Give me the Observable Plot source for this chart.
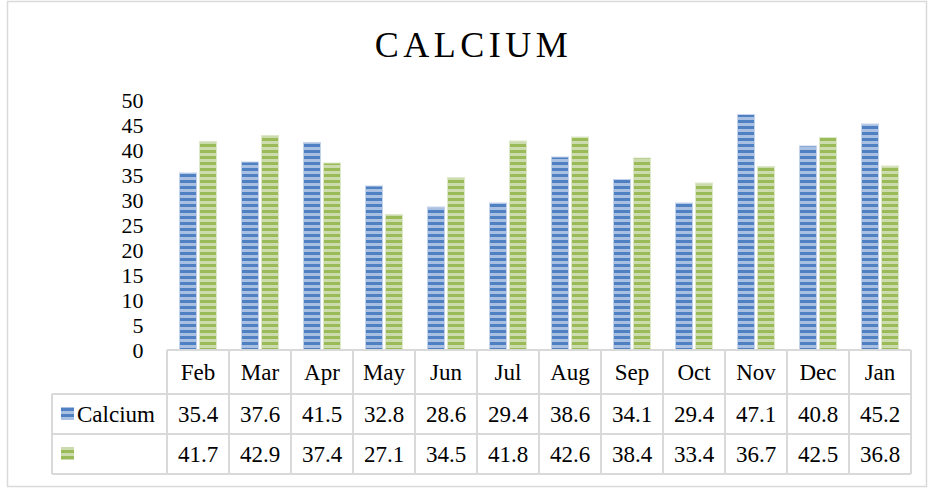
<!DOCTYPE html>
<html><head><meta charset="utf-8">
<script src="https://cdn.jsdelivr.net/npm/d3@7"></script>
<script src="https://cdn.jsdelivr.net/npm/@observablehq/plot@0.6"></script>
<style>body{margin:0;background:#fff;}</style>
</head><body><div id="chart"></div>
<script>
const title = "CALCIUM";
const months = ["Feb","Mar","Apr","May","Jun","Jul","Aug","Sep","Oct","Nov","Dec","Jan"];
const calcium = [35.4,37.6,41.5,32.8,28.6,29.4,38.6,34.1,29.4,47.1,40.8,45.2];
const series2 = [41.7,42.9,37.4,27.1,34.5,41.8,42.6,38.4,33.4,36.7,42.5,36.8];
const seriesNames = ["Calcium", ""];
const yTicks = [0,5,10,15,20,25,30,35,40,45,50];

const data = months.map((m, i) => ({month: m, calcium: calcium[i], s2: series2[i]}));
const FONT = "'Liberation Serif', 'Times New Roman', serif";
const GRID = "#d9d9d9";
const colors = [
  {id: "pBlue", dark: "#4f81c2", light: "#a9c0e3"},
  {id: "pGreen", dark: "#9bbb59", light: "#cddcae"}
];

const defsMark = () => {
  const g = d3.create("svg:g");
  const defs = g.append("defs");
  for (const c of colors) {
    const p = defs.append("pattern").attr("id", c.id)
      .attr("patternUnits", "userSpaceOnUse").attr("width", 6).attr("height", 6);
    p.append("rect").attr("width", 6).attr("height", 6).attr("fill", c.light);
    p.append("rect").attr("width", 6).attr("height", 3).attr("fill", c.dark);
  }
  return g.node();
};

const frameMark = (index, scales, values, dim) => {
  const g = d3.create("svg:g");
  g.append("rect").attr("x", 7.5).attr("y", 1.5)
    .attr("width", dim.width - 9).attr("height", dim.height - 3)
    .attr("fill", "none").attr("stroke", GRID).attr("stroke-width", 1.5);
  g.append("text").attr("x", 473.5).attr("y", 57)
    .attr("text-anchor", "middle").style("font-family", FONT)
    .attr("font-size", 36).style("letter-spacing", "4.5px").attr("fill", "#000")
    .text(title);
  return g.node();
};

const tableMark = (index, scales, values, dim) => {
  const x = scales.x, y = scales.y;
  const bw = x.bandwidth();
  const left = 52, xs = x(months[0]), xe = x(months[months.length - 1]) + bw;
  const top = y(0);
  const rowH = [44, 40, 40];
  const rows = [top, top + rowH[0], top + rowH[0] + rowH[1], top + rowH[0] + rowH[1] + rowH[2]];
  const g = d3.create("svg:g").style("font-family", FONT).attr("font-size", 23).attr("fill", "#000");
  const lines = g.append("g").attr("stroke", GRID).attr("stroke-width", 2).attr("fill", "none");
  lines.append("line").attr("x1", xs).attr("x2", xe).attr("y1", rows[0]).attr("y2", rows[0]);
  for (let r = 1; r < 4; r++)
    lines.append("line").attr("x1", left).attr("x2", xe).attr("y1", rows[r]).attr("y2", rows[r]);
  lines.append("line").attr("x1", left).attr("x2", left).attr("y1", rows[1]).attr("y2", rows[3]);
  for (let i = 0; i <= months.length; i++) {
    const xx = i < months.length ? x(months[i]) : xe;
    lines.append("line").attr("x1", xx).attr("x2", xx).attr("y1", rows[0]).attr("y2", rows[3]);
  }
  const base = (r) => rows[r] + rowH[r] / 2 + 8;
  months.forEach((m, i) => {
    const cx = x(m) + bw / 2;
    g.append("text").attr("x", cx).attr("y", base(0)).attr("text-anchor", "middle").text(m);
    g.append("text").attr("x", cx).attr("y", base(1)).attr("text-anchor", "middle").text(calcium[i].toFixed(1));
    g.append("text").attr("x", cx).attr("y", base(2)).attr("text-anchor", "middle").text(series2[i].toFixed(1));
  });
  [1, 2].forEach((r, k) => {
    g.append("rect").attr("x", 61).attr("y", rows[r] + rowH[r] / 2 - 7).attr("width", 13).attr("height", 13)
      .attr("fill", `url(#${colors[k].id})`);
    g.append("text").attr("x", 77).attr("y", base(r)).attr("text-anchor", "start")
      .style("font-family", FONT).text(seriesNames[k]);
  });
  return g.node();
};

const chart = Plot.plot({
  width: 928,
  height: 488,
  marginTop: 100,
  marginBottom: 138,
  marginLeft: 166,
  marginRight: 17,
  style: {fontFamily: FONT, fontSize: "22px", color: "#000", background: "#fff"},
  x: {type: "band", domain: months, padding: 0, axis: null},
  y: {domain: [0, 50], ticks: yTicks, tickSize: 0, tickPadding: 23, label: null},
  marks: [
    defsMark,
    frameMark,
    Plot.barY(data, {x: "month", y: "calcium", fill: "url(#pBlue)", insetLeft: 22.5, insetRight: 22.5, dx: -10,
      stroke: "#c3d3ec", strokeWidth: 1}),
    Plot.barY(data, {x: "month", y: "s2", fill: "url(#pGreen)", insetLeft: 22.5, insetRight: 22.5, dx: 10,
      stroke: "#dde8c9", strokeWidth: 1}),
    tableMark
  ]
});
document.getElementById("chart").appendChild(chart);
</script>
</body></html>
